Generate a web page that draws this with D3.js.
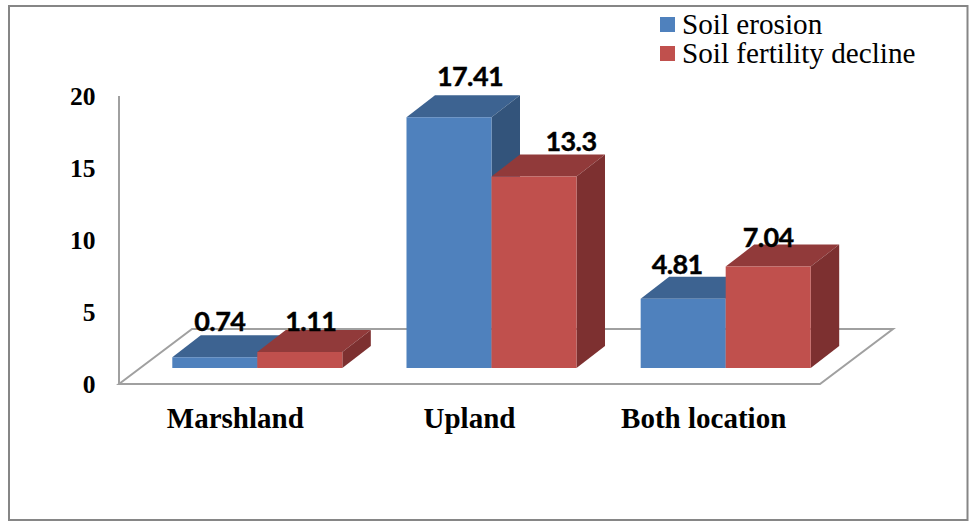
<!DOCTYPE html>
<html>
<head>
<meta charset="utf-8">
<script src="https://cdn.jsdelivr.net/npm/d3@7"></script>
<style>
  html, body { margin: 0; padding: 0; background: #fff; }
  svg { display: block; }
</style>
</head>
<body>
<svg id="chart" width="971" height="521"></svg>
<script>
const categories = ["Marshland", "Upland", "Both location"];
const seriesNames = ["Soil erosion", "Soil fertility decline"];
const soilErosion = [0.74, 17.41, 4.81];
const soilFertilityDecline = [1.11, 13.3, 7.04];
const yTicks = [0, 5, 10, 15, 20];

// Face shades per series: front, top, side
const faceColours = [
  { front: "#4F81BD", top: "#3D6391", side: "#33547B" },
  { front: "#C0504D", top: "#913A3A", side: "#7D3030" }
];

// Hand placement of value labels relative to each bar's front-top centre
const labelNudge = [
  [[5, -26], [21, -31], [-6, -25]],
  [[11, -21], [37, -25], [0, -20]]
];

const serif = "'Liberation Serif', 'Times New Roman', serif";
const svg = d3.select("#chart");

// Projection of the chart box
const depth = { dx: 28.5, dy: 22 };
const floor = { x0: 119, x1: 820, y: 384, backDx: 73, backDy: 55 };
const barBaseY = 368;

const y = d3.scaleLinear().domain([0, 20]).range([floor.y, 96]);
const x = d3.scaleBand().domain(categories).range([172.3, 810.7]).paddingInner(0.274).paddingOuter(0);
const xSeries = d3.scaleBand().domain(seriesNames).range([0, x.bandwidth()]);

// Outer frame
svg.append("rect")
  .attr("x", 9).attr("y", 6).attr("width", 958.5).attr("height", 514)
  .attr("fill", "#fff").attr("stroke", "#868686").attr("stroke-width", 2);

// Floor and left wall edge
const floorPath = d3.path();
floorPath.moveTo(floor.x0, floor.y);
floorPath.lineTo(floor.x0 + floor.backDx, floor.y - floor.backDy);
floorPath.lineTo(floor.x1 + floor.backDx, floor.y - floor.backDy);
floorPath.lineTo(floor.x1, floor.y);
floorPath.closePath();
svg.append("path").attr("d", floorPath.toString())
  .attr("fill", "#fff").attr("stroke", "#a0a0a0").attr("stroke-width", 2);
svg.append("line")
  .attr("x1", floor.x0).attr("x2", floor.x0).attr("y1", y(20)).attr("y2", floor.y)
  .attr("stroke", "#a0a0a0").attr("stroke-width", 2);

// Value axis labels
svg.append("g").selectAll("text").data(yTicks).join("text")
  .attr("x", 95.5).attr("y", d => y(d) + 8.5)
  .attr("text-anchor", "end")
  .attr("font-family", serif).attr("font-weight", "bold").attr("font-size", 25.5)
  .attr("fill", "#000").text(d => d);

// Category labels sit under the floor's front edge
svg.append("g").selectAll("text").data(categories).join("text")
  .attr("x", d => x(d) + x.bandwidth() / 2 - 22).attr("y", 428)
  .attr("text-anchor", "middle")
  .attr("font-family", serif).attr("font-weight", "bold").attr("font-size", 29)
  .attr("fill", "#000").text(d => d);

// Extruded bars, blue series first so that the red one overlaps it
const poly = pts => d3.line()(pts) + "Z";
[soilErosion, soilFertilityDecline].forEach((values, s) => {
  const g = svg.append("g");
  categories.forEach((cat, i) => {
    const left = x(cat) + xSeries(seriesNames[s]);
    const right = left + xSeries.bandwidth();
    const top = barBaseY - (y(0) - y(values[i]));
    const { dx, dy } = depth;
    g.append("path").attr("fill", faceColours[s].top)
      .attr("d", poly([[left, top], [left + dx, top - dy], [right + dx, top - dy], [right, top]]));
    g.append("path").attr("fill", faceColours[s].side)
      .attr("d", poly([[right, top], [right + dx, top - dy], [right + dx, barBaseY - dy], [right, barBaseY]]));
    g.append("path").attr("fill", faceColours[s].front)
      .attr("d", poly([[left, top], [right, top], [right, barBaseY], [left, barBaseY]]));
  });
});

// Value labels above everything else
[soilErosion, soilFertilityDecline].forEach((values, s) => {
  svg.append("g").selectAll("text").data(values).join("text")
    .attr("x", (d, i) => x(categories[i]) + xSeries(seriesNames[s]) + xSeries.bandwidth() / 2 + labelNudge[s][i][0])
    .attr("y", (d, i) => barBaseY - (y(0) - y(d)) + labelNudge[s][i][1])
    .attr("text-anchor", "middle")
    .attr("font-family", "Lato, sans-serif").attr("font-weight", "bold").attr("font-size", 27)
    .attr("letter-spacing", -0.6)
    .attr("stroke", "#000").attr("stroke-width", 0.4)
    .attr("fill", "#000").text(d => d);
});

// Legend
const legend = svg.append("g").selectAll("g").data(seriesNames).join("g")
  .attr("transform", (d, i) => `translate(660,${17 + i * 29})`);
legend.append("rect").attr("width", 15).attr("height", 15)
  .attr("fill", (d, i) => faceColours[i].front);
legend.append("text").attr("x", 22).attr("y", 17)
  .attr("font-family", serif).attr("font-size", 29.2).attr("fill", "#000").text(d => d);
</script>
</body>
</html>
